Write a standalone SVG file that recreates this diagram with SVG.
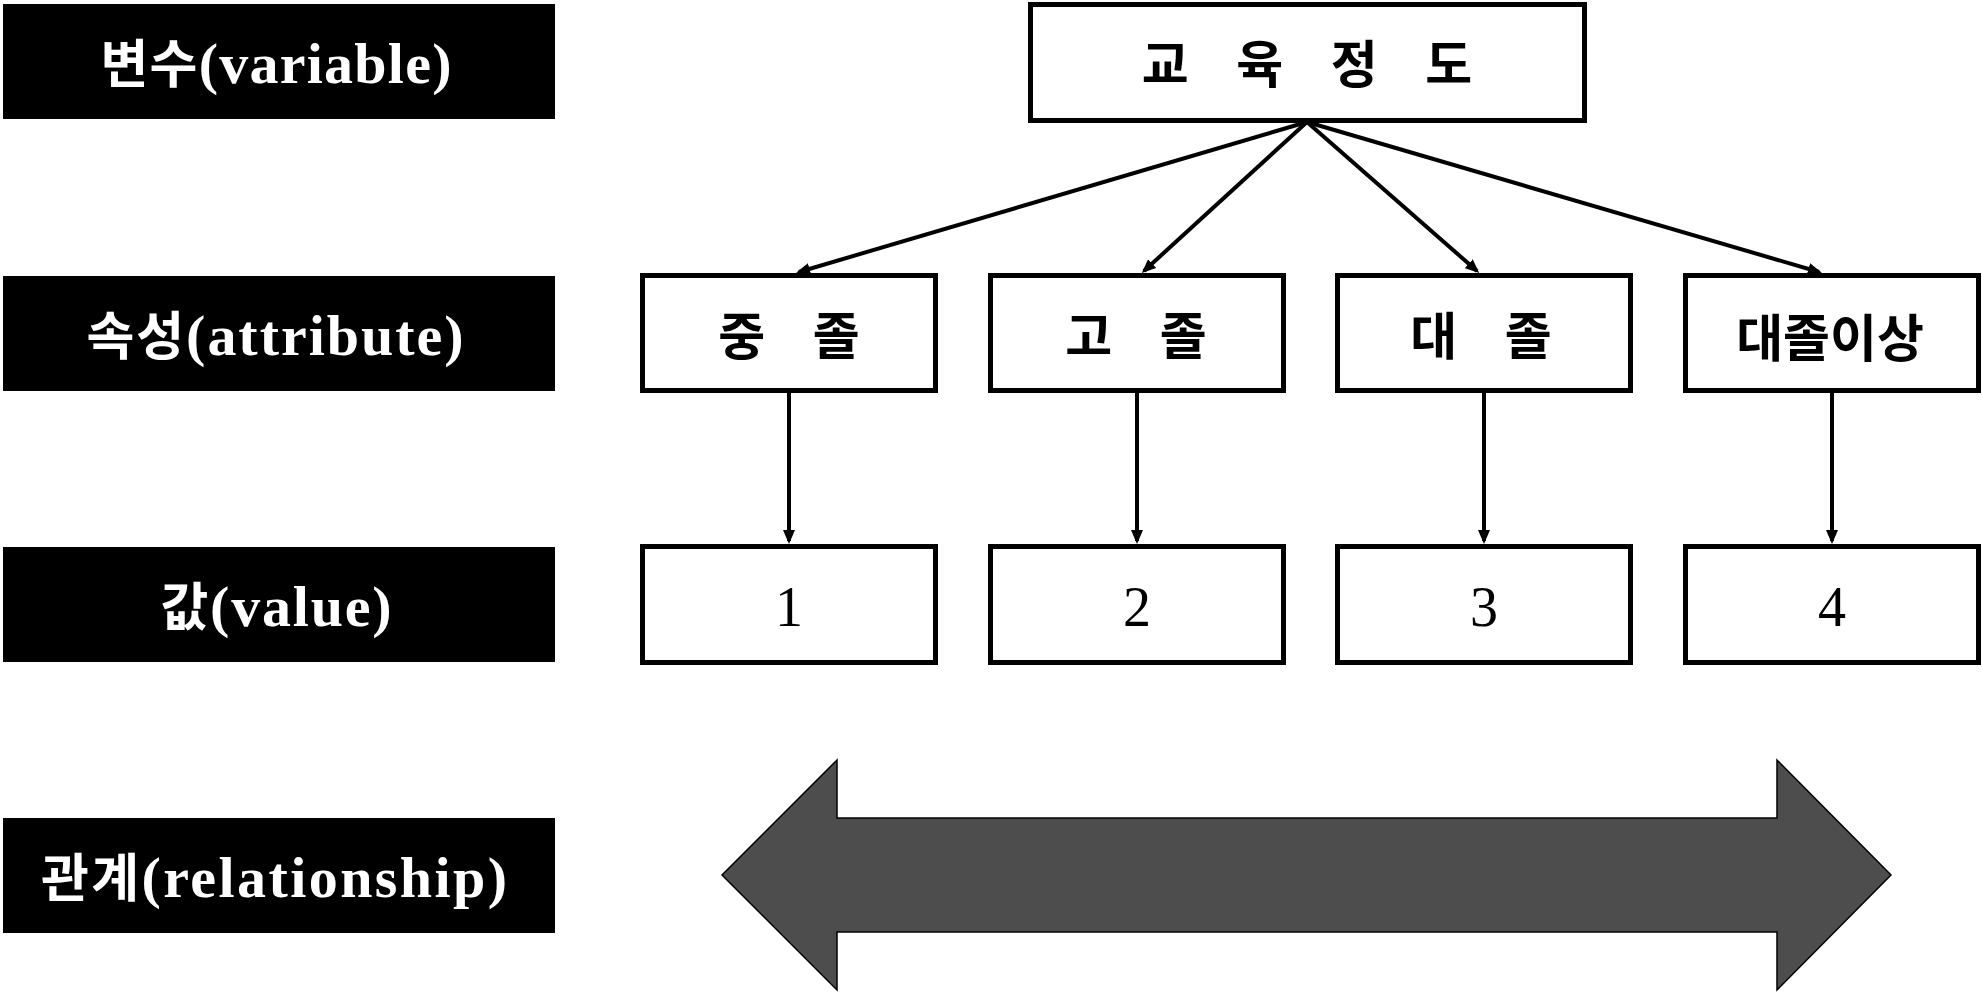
<svg xmlns="http://www.w3.org/2000/svg" width="1982" height="992" viewBox="0 0 1982 992">
<style>
.lbl rect{fill:#000}
.lbl text{fill:#fff;font-family:"Liberation Serif","Noto Sans CJK KR",serif;font-weight:bold;font-size:58px;text-anchor:middle}
.lbl .ko{font-size:52px}
.node rect{fill:#fff;stroke:#000;stroke-width:5}
.node text{fill:#000;font-family:"Noto Sans CJK KR",sans-serif;font-weight:bold;font-size:51px;text-anchor:middle;word-spacing:36px}
.val text{fill:#000;font-family:"Liberation Serif",serif;font-weight:normal;font-size:56px;text-anchor:middle}
.conn line{stroke:#000;stroke-width:4;marker-end:url(#ah)}
</style>
<defs>
<marker id="ah" markerUnits="userSpaceOnUse" markerWidth="14" markerHeight="12" viewBox="0 0 14 12" refX="11" refY="6" orient="auto">
<path d="M0,0 L14,6 L0,12 z" fill="#000"/>
</marker>
</defs>

<g id="label-variable" class="lbl"><rect x="3" y="4" width="552" height="115"/><text x="276" y="83" textLength="351" lengthAdjust="spacing"><tspan class="ko">변수</tspan>(variable)</text></g>
<g id="label-attribute" class="lbl"><rect x="3" y="276" width="552" height="115"/><text x="275" y="355" textLength="377" lengthAdjust="spacing"><tspan class="ko">속성</tspan>(attribute)</text></g>
<g id="label-value" class="lbl"><rect x="3" y="547" width="552" height="115"/><text x="276" y="626" textLength="231" lengthAdjust="spacing"><tspan class="ko">값</tspan>(value)</text></g>
<g id="label-relationship" class="lbl"><rect x="3" y="818" width="552" height="115"/><text x="274" y="897" textLength="466" lengthAdjust="spacing"><tspan class="ko">관계</tspan>(relationship)</text></g>

<g id="node-education" class="node"><rect x="1030.5" y="4.5" width="554" height="116"/><text x="1307" y="83">교 육 정 도</text></g>

<g id="node-middle" class="node"><rect x="642.5" y="275.5" width="293" height="115"/><text x="789" y="355">중 졸</text></g>
<g id="node-high" class="node"><rect x="990.5" y="275.5" width="293" height="115"/><text x="1136" y="355">고 졸</text></g>
<g id="node-college" class="node"><rect x="1337.5" y="275.5" width="293" height="115"/><text x="1481" y="355">대 졸</text></g>
<g id="node-above" class="node"><rect x="1685.5" y="275.5" width="293" height="115"/><text x="1830" y="357">대졸이상</text></g>

<g id="node-v1" class="node val"><rect x="642.5" y="546.5" width="293" height="116"/><text x="789" y="626">1</text></g>
<g id="node-v2" class="node val"><rect x="990.5" y="546.5" width="293" height="116"/><text x="1137" y="626">2</text></g>
<g id="node-v3" class="node val"><rect x="1337.5" y="546.5" width="293" height="116"/><text x="1484" y="626">3</text></g>
<g id="node-v4" class="node val"><rect x="1685.5" y="546.5" width="293" height="116"/><text x="1832" y="626">4</text></g>

<g id="connectors" class="conn">
<line x1="1307" y1="122" x2="799" y2="272"/>
<line x1="1307" y1="122" x2="1144" y2="271"/>
<line x1="1307" y1="122" x2="1477" y2="271"/>
<line x1="1307" y1="122" x2="1819" y2="272"/>
<line x1="789" y1="393" x2="789" y2="541"/>
<line x1="1137" y1="393" x2="1137" y2="541"/>
<line x1="1484" y1="393" x2="1484" y2="541"/>
<line x1="1832" y1="393" x2="1832" y2="541"/>
</g>

<g id="relationship-arrow">
<polygon points="722,875 837,760 837,818 1777,818 1777,760 1891,875 1777,990 1777,932 837,932 837,990" fill="#4d4d4d" stroke="#000" stroke-width="1.5"/>
</g>
</svg>
